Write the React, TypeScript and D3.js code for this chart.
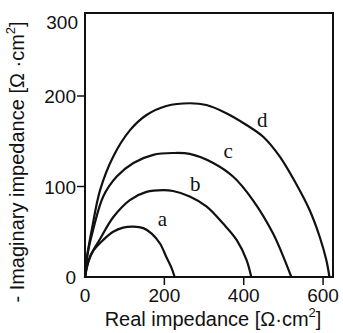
import { useEffect, useRef } from 'react';
import * as d3 from 'd3';

// Nyquist curves: [real, -imaginary] in Ω·cm²
const curveA: [number, number][] = [
  [0, 0], [8, 16], [21, 29], [46, 41], [71, 50], [96, 54.5], [122, 55.6], [147, 54],
  [168, 48], [189, 37], [205, 22], [218, 10], [226, 0],
];
const curveB: [number, number][] = [
  [0, 0], [12, 22], [38, 42], [71, 66], [113, 85], [155, 94], [197, 96], [222, 95],
  [264, 89], [306, 78], [348, 59], [382, 41], [407, 19], [419, 0],
];
const curveC: [number, number][] = [
  [0, 0], [6, 24], [21, 53], [46, 89], [80, 111], [122, 126], [172, 135], [222, 137],
  [264, 136], [323, 126], [373, 111], [423, 85], [474, 48], [503, 19], [520, 0],
];
const curveD: [number, number][] = [
  [0, 0], [5, 22], [17, 52], [38, 96], [71, 133], [113, 162], [155, 179], [205, 189],
  [264, 192], [306, 190], [356, 181], [407, 168], [449, 155], [491, 133], [532, 103],
  [566, 74], [591, 45], [608, 19], [616, 0],
];
const curveNames = ['a', 'b', 'c', 'd'];
// where each letter sits, in data units
const labelSpots: [number, number][] = [[195, 56], [278, 95], [361, 131], [447, 166]];

const xTicks = [200, 400, 600];
const yTicks = [100, 200];

const W = 343;
const H = 333;

const App: React.FC = () => {
  const svgRef = useRef<SVGSVGElement>(null);

  useEffect(() => {
    if (!svgRef.current) return;
    const svg = d3.select(svgRef.current);
    svg.selectAll('*').remove();

    const left = 85, right = 333, top = 13, bottom = 277;
    const x = d3.scaleLinear().domain([0, 625]).range([left, right]);
    const y = d3.scaleLinear().domain([0, 200]).range([bottom, 96]);

    const sans = '"Liberation Sans", Arial, sans-serif';
    const serif = '"Liberation Serif", "Times New Roman", serif';

    // frame
    svg.append('rect')
      .attr('x', left).attr('y', top)
      .attr('width', right - left).attr('height', bottom - top)
      .attr('fill', 'none')
      .attr('stroke', '#111')
      .attr('stroke-width', 2);

    // x ticks
    svg.append('g').selectAll('line').data(xTicks).join('line')
      .attr('x1', d => x(d)).attr('x2', d => x(d))
      .attr('y1', bottom).attr('y2', bottom + 8)
      .attr('stroke', '#111').attr('stroke-width', 1.5);
    svg.append('g').selectAll('text').data([0, ...xTicks]).join('text')
      .attr('x', d => x(d)).attr('y', bottom + 25)
      .attr('text-anchor', 'middle')
      .style('font-family', sans).style('font-size', '19px').style('fill', '#111')
      .text(d => d);

    // y ticks
    svg.append('g').selectAll('line').data(yTicks).join('line')
      .attr('x1', left - 8).attr('x2', left)
      .attr('y1', d => y(d)).attr('y2', d => y(d))
      .attr('stroke', '#111').attr('stroke-width', 1.5);
    svg.append('g').selectAll('text').data([0, ...yTicks]).join('text')
      .attr('x', left - 9).attr('y', d => y(d) + 7)
      .attr('text-anchor', 'end')
      .style('font-family', sans).style('font-size', '19px').style('fill', '#111')
      .text(d => d);
    svg.append('text')
      .attr('x', left - 7).attr('y', top + 16)
      .attr('text-anchor', 'end')
      .style('font-family', sans).style('font-size', '19px').style('fill', '#111')
      .text(300);

    // curves
    const line = d3.line<[number, number]>()
      .x(d => x(d[0])).y(d => y(d[1]))
      .curve(d3.curveCatmullRom.alpha(0.5));
    svg.append('g').selectAll('path').data([curveA, curveB, curveC, curveD]).join('path')
      .attr('d', d => line(d))
      .attr('fill', 'none')
      .attr('stroke', '#111')
      .attr('stroke-width', 2.2);

    svg.append('g').selectAll('text').data(curveNames).join('text')
      .attr('x', (_d, i) => x(labelSpots[i][0]))
      .attr('y', (_d, i) => y(labelSpots[i][1]))
      .attr('text-anchor', 'middle')
      .style('font-family', serif).style('font-size', '21px').style('fill', '#111')
      .text(d => d);

    // axis titles
    const xt = svg.append('text')
      .attr('x', 213).attr('y', 326)
      .attr('text-anchor', 'middle')
      .style('font-family', sans).style('font-size', '20px').style('fill', '#111');
    xt.append('tspan').text('Real impedance [Ω·cm');
    xt.append('tspan').attr('dy', -9).style('font-size', '13px').text('2');
    xt.append('tspan').attr('dy', 9).text(']');

    const yt = svg.append('text')
      .attr('transform', 'translate(24,162) rotate(-90)')
      .attr('text-anchor', 'middle')
      .style('font-family', sans).style('font-size', '20px').style('fill', '#111');
    yt.append('tspan').text('- Imaginary impedance [Ω ·cm');
    yt.append('tspan').attr('dy', -9).style('font-size', '13px').text('2');
    yt.append('tspan').attr('dy', 9).text(']');
  }, []);

  return (
    <svg
      ref={svgRef}
      width={W}
      height={H}
      style={{ position: 'fixed', left: 0, top: 0, background: '#fff' }}
    />
  );
};

export default App;
